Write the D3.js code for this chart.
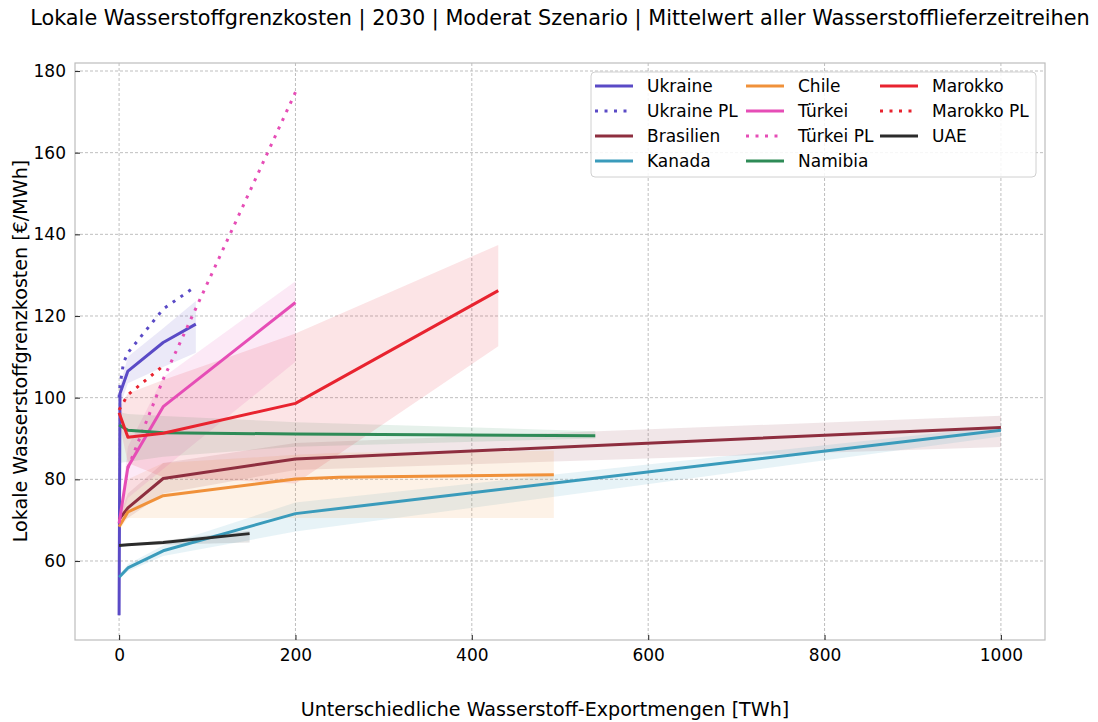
<!DOCTYPE html>
<html><head><meta charset="utf-8">
<script src="https://cdn.jsdelivr.net/npm/d3@7"></script>
<style>
html,body{margin:0;padding:0;background:#fff;}
svg text{font-family:"DejaVu Sans",sans-serif;fill:#000;}
</style></head>
<body>
<svg id="chart" width="1098" height="722"></svg>
<script>
// ---------- data ----------
const titleText = "Lokale Wasserstoffgrenzkosten | 2030 | Moderat Szenario | Mittelwert aller Wasserstofflieferzeitreihen";
const xLabel = "Unterschiedliche Wasserstoff-Exportmengen [TWh]";
const yLabel = "Lokale Wasserstoffgrenzkosten [€/MWh]";
const xTicks = [0, 200, 400, 600, 800, 1000];
const yTicks = [60, 80, 100, 120, 140, 160, 180];

const ukraineX  = [0, 1, 10, 50, 87];
const ukraineY  = [46.7, 101, 106.5, 113.5, 118];
const ukraineLo = [46, 98, 103.5, 107.5, 111];
const ukraineHi = [47.5, 103, 110, 117, 123.7];

const ukrainePlX = [0, 1, 5, 10, 50, 87];
const ukrainePlY = [100, 103, 108.5, 111, 121.7, 127.3];

const brasilienX  = [0, 10, 50, 200, 1000];
const brasilienY  = [70.2, 73, 80.2, 85, 92.7];
const brasilienLo = [69.5, 70.5, 76.5, 82.3, 87.9];
const brasilienHi = [71, 76.5, 84, 88.9, 95.6];

const kanadaX  = [0, 10, 50, 200, 1000];
const kanadaY  = [56, 58.3, 62.5, 71.6, 92];
const kanadaLo = [55.5, 57.5, 61.2, 67.2, 90.5];
const kanadaHi = [56.5, 59.2, 63.8, 74.3, 93];

const chileX  = [0, 10, 50, 200, 250, 493];
const chileY  = [68.4, 72, 76, 80.1, 80.5, 81.1];
const chileLo = [67.5, 70.5, 70.5, 70.5, 70.5, 70.5];
const chileHi = [69.5, 80, 84, 86, 86.5, 87];

const tuerkeiX  = [0, 10, 50, 200];
const tuerkeiY  = [69.2, 83, 97.8, 123.3];
const tuerkeiLo = [68.5, 75.4, 82.5, 108.8];
const tuerkeiHi = [70, 88, 105, 128.5];

const tuerkeiPlX = [10, 50, 200];
const tuerkeiPlY = [82.8, 104.5, 174.8];

const namibiaX  = [0, 10, 50, 200, 540];
const namibiaY  = [93.3, 92, 91.4, 91.1, 90.7];
const namibiaLo = [84, 84.3, 85.5, 88, 90];
const namibiaHi = [96.5, 96, 95.5, 94, 91.8];

const marokkoX  = [0, 10, 50, 200, 430];
const marokkoY  = [96.3, 90.3, 91.3, 98.6, 126.2];
const marokkoLo = [94, 84, 80.5, 79, 112.6];
const marokkoHi = [97.5, 101, 104.3, 115.7, 137.4];

const marokkoPlX = [0, 10, 50];
const marokkoPlY = [97, 100.7, 107.8];

const uaeX  = [0, 10, 50, 148];
const uaeY  = [63.8, 64, 64.5, 66.7];
const uaeLo = [63.6, 63.8, 64, 64.5];
const uaeHi = [64, 64.2, 65, 67.4];

const seriesNames = ["Ukraine","Ukraine PL","Brasilien","Kanada","Chile","Türkei","Türkei PL","Namibia","Marokko","Marokko PL","UAE"];
const seriesColors = ["#5a4ac6","#5a4ac6","#8e2e3f","#3a9bbb","#f0913a","#e64db6","#e64db6","#2e8b57","#e8232f","#e8232f","#2b2b2b"];
const seriesDotted = [false,true,false,false,false,false,true,false,false,true,false];
const seriesX  = [ukraineX, ukrainePlX, brasilienX, kanadaX, chileX, tuerkeiX, tuerkeiPlX, namibiaX, marokkoX, marokkoPlX, uaeX];
const seriesY  = [ukraineY, ukrainePlY, brasilienY, kanadaY, chileY, tuerkeiY, tuerkeiPlY, namibiaY, marokkoY, marokkoPlY, uaeY];
const seriesLo = [ukraineLo, null, brasilienLo, kanadaLo, chileLo, tuerkeiLo, null, namibiaLo, marokkoLo, null, uaeLo];
const seriesHi = [ukraineHi, null, brasilienHi, kanadaHi, chileHi, tuerkeiHi, null, namibiaHi, marokkoHi, null, uaeHi];

// ---------- layout ----------
const svg = d3.select("#chart");
const L = 75, R = 1045, T = 63, B = 640;
const x = d3.scaleLinear().domain([-50, 1050]).range([L, R]);
const y = d3.scaleLinear().domain([40.65, 181.96]).range([B, T]);

svg.append("rect").attr("width",1098).attr("height",722).attr("fill","#fff");

// grid
const grid = svg.append("g");
grid.selectAll("line.gx").data(xTicks).join("line")
  .attr("x1", d=>x(d)).attr("x2", d=>x(d)).attr("y1", T).attr("y2", B)
  .attr("stroke","#b8b8b8").attr("stroke-width",0.9).attr("stroke-dasharray","3,2");
grid.selectAll("line.gy").data(yTicks).join("line")
  .attr("y1", d=>y(d)).attr("y2", d=>y(d)).attr("x1", L).attr("x2", R)
  .attr("stroke","#b8b8b8").attr("stroke-width",0.9).attr("stroke-dasharray","3,2");

svg.append("defs").append("clipPath").attr("id","clip")
  .append("rect").attr("x",L).attr("y",T).attr("width",R-L).attr("height",B-T);
const plot = svg.append("g").attr("clip-path","url(#clip)");

// bands
seriesNames.forEach((n,i)=>{
  if(!seriesLo[i]) return;
  const pts = seriesX[i].map((xv,k)=>({x:xv, lo:seriesLo[i][k], hi:seriesHi[i][k]}));
  const area = d3.area().x(d=>x(d.x)).y0(d=>y(d.lo)).y1(d=>y(d.hi));
  plot.append("path").attr("d", area(pts)).attr("fill", seriesColors[i]).attr("fill-opacity",0.12);
});

// lines
seriesNames.forEach((n,i)=>{
  const pts = seriesX[i].map((xv,k)=>({x:xv, y:seriesY[i][k]}));
  const line = d3.line().x(d=>x(d.x)).y(d=>y(d.y));
  const p = plot.append("path").attr("d", line(pts)).attr("fill","none")
    .attr("stroke", seriesColors[i]).attr("stroke-width",3)
    .attr("stroke-linejoin","round");
  if(seriesDotted[i]) p.attr("stroke-dasharray","3,6.5");
});

// frame
svg.append("rect").attr("x",L).attr("y",T).attr("width",R-L).attr("height",B-T)
  .attr("fill","none").attr("stroke","#bdbdbd").attr("stroke-width",1.2);

// axes (ticks inward)
const xAxis = d3.axisBottom(x).tickValues(xTicks).tickSize(-5).tickPadding(9).tickFormat(d3.format("d"));
const gx = svg.append("g").attr("transform",`translate(0,${B})`).call(xAxis);
gx.select(".domain").remove();
gx.selectAll(".tick line").attr("stroke","#333").attr("stroke-width",1.1);
gx.selectAll(".tick text").attr("font-size",17).attr("font-family","DejaVu Sans");

const yAxis = d3.axisLeft(y).tickValues(yTicks).tickSize(-5).tickPadding(9).tickFormat(d3.format("d"));
const gy = svg.append("g").attr("transform",`translate(${L},0)`).call(yAxis);
gy.select(".domain").remove();
gy.selectAll(".tick line").attr("stroke","#333").attr("stroke-width",1.1);
gy.selectAll(".tick text").attr("font-size",17).attr("font-family","DejaVu Sans");

// title & labels
svg.append("text").attr("x",560).attr("y",25).attr("text-anchor","middle")
  .attr("font-size",20.8).text(titleText);
svg.append("text").attr("x",545).attr("y",716).attr("text-anchor","middle")
  .attr("font-size",19.1).text(xLabel);
svg.append("text").attr("transform","translate(27,351) rotate(-90)").attr("text-anchor","middle")
  .attr("font-size",19.1).text(yLabel);

// legend
const lg = svg.append("g");
lg.append("rect").attr("x",591).attr("y",72).attr("width",445).attr("height",105)
  .attr("rx",4).attr("fill","#fff").attr("fill-opacity",0.85).attr("stroke","#d0d0d0").attr("stroke-width",1);
const colX = [595, 746, 880];
const rowY = [86, 111, 136, 161];
seriesNames.forEach((n,i)=>{
  const c = Math.floor(i/4), r = i%4;
  const gx0 = colX[c], gy0 = rowY[r];
  const h = lg.append("line").attr("x1",gx0).attr("x2",gx0+38).attr("y1",gy0).attr("y2",gy0)
    .attr("stroke",seriesColors[i]).attr("stroke-width",3);
  if(seriesDotted[i]) h.attr("stroke-dasharray","3,6.5");
  lg.append("text").attr("x",gx0+52).attr("y",gy0).attr("dy","0.35em")
    .attr("font-size",17).text(n);
});
</script>
</body></html>
